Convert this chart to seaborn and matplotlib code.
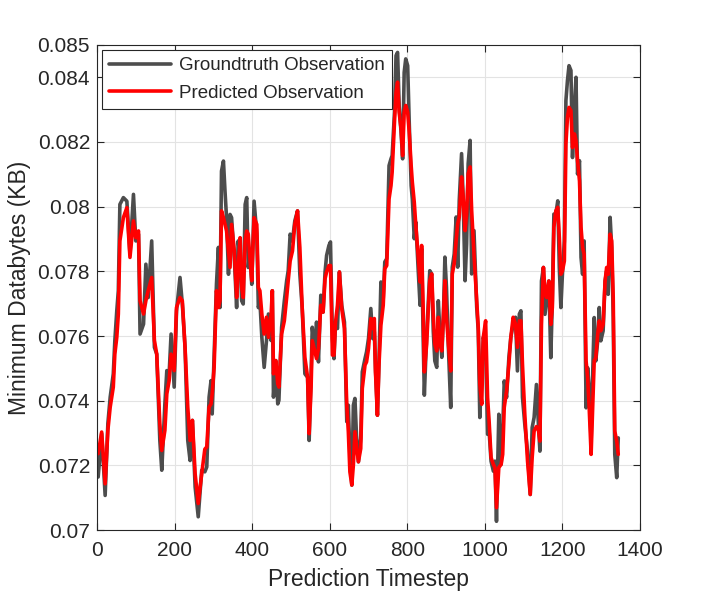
import matplotlib
matplotlib.use("Agg")
import matplotlib.pyplot as plt
import seaborn as sns
import pandas as pd

# timesteps of the vertices
timestep = [1, 3, 12, 21, 28, 34, 42, 46, 51, 55, 59, 68, 77, 85, 94, 100, 107, 111, 120, 126,
            132, 141, 148, 154, 162, 167, 175, 180, 186, 191, 199, 205, 214, 220, 227, 234, 240, 246, 253, 261,
            270, 278, 283, 289, 294, 297, 302, 308, 313, 317, 321, 326, 330, 334, 339, 343, 347, 354, 360, 364,
            369, 373, 377, 382, 386, 390, 394, 399, 405, 412, 416, 420, 425, 431, 437, 442, 449, 452, 455, 461,
            466, 469, 476, 483, 489, 493, 498, 504, 510, 517, 523, 529, 536, 543, 547, 552, 555,
            562, 566, 571, 577, 583, 588, 592, 598, 602, 607, 611, 615, 620, 625, 631, 638, 644, 648, 652, 657,
            661, 665, 669, 674, 680, 684, 691, 695, 700, 706, 711, 715, 718, 723, 727, 732, 738, 742, 747, 753,
            758, 761, 767, 771, 775, 779, 784, 788, 792, 796, 801, 805, 810, 813, 818, 822, 828, 833, 837, 841,
            844, 850, 854, 858, 863, 867, 871, 876, 880, 884, 889, 893, 897, 901, 906, 912, 916, 921, 926, 930,
            934, 940, 944, 949, 953, 957, 962, 966, 972, 979, 983, 987, 992, 996, 1002, 1007, 1011, 1016, 1022, 1026,
            1030, 1036, 1042, 1046, 1050, 1056, 1062, 1067, 1073, 1079, 1084, 1089, 1093, 1097, 1103, 1110, 1117, 1122, 1127, 1133,
            1138, 1142, 1146, 1151, 1155, 1159, 1165, 1170, 1174, 1178, 1183, 1188, 1192, 1196, 1200, 1205, 1209, 1213, 1217, 1222,
            1226, 1231, 1235, 1239, 1244, 1248, 1252, 1256, 1261, 1265, 1269, 1274, 1278, 1282, 1286, 1291, 1295, 1299, 1305, 1310,
            1314, 1318, 1323, 1327, 1331, 1335, 1340, 1344]

groundtruth = [0.07257, 0.07164, 0.07298, 0.07107, 0.07329, 0.07411, 0.07483, 0.07586, 0.07678, 0.0774,
               0.08007, 0.08028, 0.08017, 0.07853, 0.08038, 0.07894, 0.07915, 0.07606, 0.07637, 0.07822,
               0.07719, 0.07894, 0.07565, 0.07544, 0.07277, 0.07185, 0.0739, 0.07493, 0.07483, 0.07606,
               0.07442, 0.07678, 0.07781, 0.07699, 0.07565, 0.07277, 0.07215, 0.07339, 0.07133, 0.07041,
               0.07185,
               0.0718, 0.07195, 0.07411, 0.07462, 0.07359, 0.07544, 0.0776, 0.07874, 0.07688, 0.0811,
               0.08141, 0.08048, 0.07966, 0.07791, 0.07976, 0.07966, 0.07843, 0.07688, 0.07894, 0.07843,
               0.07709, 0.07699, 0.08007, 0.08028, 0.07812, 0.07863, 0.0776, 0.08017, 0.07915, 0.07688,
               0.07709, 0.07596, 0.07503, 0.07586, 0.07668, 0.07586, 0.0774, 0.07411, 0.07524, 0.0739,
               0.07401, 0.07627, 0.07709, 0.07771, 0.07802, 0.07915, 0.07894, 0.07956, 0.07987, 0.07791,
               0.07688, 0.07483, 0.07472, 0.07277, 0.07483, 0.07627,
               0.0755, 0.07643, 0.0752, 0.07726, 0.07674, 0.07798, 0.07849, 0.0788, 0.07891, 0.07592,
               0.0753, 0.07643, 0.07623, 0.07798, 0.07695, 0.07643, 0.07335, 0.07386, 0.07232, 0.07139,
               0.07386, 0.07407, 0.07293, 0.07211, 0.07283, 0.07489, 0.0753, 0.07551, 0.07592, 0.07685,
               0.07592, 0.07613, 0.07499, 0.07355, 0.0752, 0.07767, 0.07716, 0.07829, 0.07839, 0.08127,
               0.08148, 0.08158, 0.08292, 0.08467, 0.08477, 0.08313, 0.0823, 0.08148, 0.08415, 0.08457,
               0.08436, 0.08261, 0.08065, 0.08024, 0.07901, 0.07952, 0.07808, 0.07695, 0.0787, 0.07592,
               0.07417,
               0.07606, 0.07699, 0.07802, 0.07792, 0.07616, 0.07523, 0.07503, 0.07709, 0.07616, 0.07534,
               0.07658, 0.07844, 0.07751, 0.07565, 0.07379, 0.07813, 0.07854, 0.07968, 0.07813, 0.08019,
               0.08164, 0.0803, 0.07771, 0.07885, 0.08133, 0.08205, 0.07792, 0.07926, 0.07689, 0.07616,
               0.07348, 0.07492, 0.07596, 0.07565, 0.07296, 0.07306, 0.07213, 0.07182, 0.07213, 0.07027,
               0.07358, 0.07203, 0.07306, 0.07461, 0.0741, 0.07534, 0.07596, 0.07637, 0.07658, 0.07492,
               0.07668, 0.07678, 0.0741, 0.07327, 0.07244, 0.0711, 0.07317, 0.07348, 0.0745, 0.0733,
               0.07244,
               0.0777, 0.07812, 0.07667, 0.07709, 0.0777, 0.07533, 0.07709, 0.07977, 0.07977, 0.08018,
               0.07812, 0.07688, 0.07791, 0.07894, 0.08328, 0.0839, 0.08436, 0.08421, 0.08152, 0.08307,
               0.084, 0.08101, 0.08142, 0.07843, 0.07791, 0.07894, 0.07378, 0.07502, 0.0744, 0.07275,
               0.07481, 0.07657, 0.07523, 0.07585, 0.07688, 0.07585, 0.07616, 0.0777, 0.07801, 0.07729,
               0.07967, 0.07874, 0.07657, 0.07234, 0.07162, 0.07285]

predicted = [0.0726, 0.07236, 0.07303, 0.07143, 0.07308, 0.0738, 0.07442, 0.07544, 0.07596, 0.07668,
             0.07894, 0.07966, 0.07997, 0.07843, 0.07956, 0.07904, 0.07925, 0.07709, 0.07668, 0.07709,
             0.0774, 0.07781, 0.07586, 0.07544, 0.07329, 0.07246, 0.07308, 0.07421, 0.07462, 0.07544,
             0.07493, 0.07688, 0.07719, 0.07709, 0.07565, 0.0738, 0.07277, 0.07339, 0.07174, 0.07082,
             0.07174,
             0.0725, 0.07257, 0.0738, 0.0739, 0.07421, 0.07503, 0.0774, 0.07688, 0.07709, 0.07987,
             0.07966, 0.07945, 0.07925, 0.07863, 0.07812, 0.07945, 0.07863, 0.07719, 0.07812, 0.07904,
             0.0775, 0.07719, 0.07894, 0.07925, 0.07915, 0.07843, 0.07771, 0.07966, 0.07945, 0.0775,
             0.0774, 0.07668, 0.07606, 0.07658, 0.07596, 0.07668, 0.0774, 0.07483, 0.07524, 0.07452,
             0.07442, 0.07606, 0.07647, 0.07719, 0.07771, 0.07832, 0.07863, 0.07945, 0.07987, 0.07874,
             0.07688, 0.07534, 0.07472, 0.07298, 0.07442, 0.07586,
             0.0755, 0.0753, 0.07561, 0.07695, 0.07674, 0.07777, 0.07798, 0.07818, 0.07818, 0.07541,
             0.07541, 0.07643, 0.07695, 0.07798, 0.07685, 0.07623, 0.07386, 0.07304, 0.0718, 0.07139,
             0.07201, 0.07304, 0.07263, 0.07211, 0.07252, 0.07438, 0.0751, 0.0752, 0.07561, 0.07654,
             0.07623, 0.07654, 0.07489, 0.07355, 0.0751, 0.07633, 0.07695, 0.07808, 0.07818, 0.08024,
             0.08065, 0.08107, 0.08261, 0.08354, 0.08385, 0.08292, 0.0824, 0.08158, 0.08292, 0.08313,
             0.08292, 0.0823, 0.08127, 0.08076, 0.08014, 0.07942, 0.07849, 0.07767, 0.0788, 0.07685,
             0.07489,
             0.07575, 0.07678, 0.07771, 0.07792, 0.07668, 0.07575, 0.07554, 0.07658, 0.07575, 0.07554,
             0.07658, 0.07771, 0.07658, 0.07575, 0.07492, 0.07792, 0.07823, 0.07895, 0.07947, 0.07968,
             0.08092, 0.0803, 0.07926, 0.07978, 0.08102, 0.08123, 0.07988, 0.07854, 0.07709, 0.07627,
             0.07451, 0.07389, 0.07596, 0.07647, 0.0741, 0.07337, 0.07224, 0.07203, 0.07193, 0.07069,
             0.07193, 0.07203, 0.07234, 0.07379, 0.0743, 0.07513, 0.07596, 0.07658, 0.07637, 0.07565,
             0.07647, 0.07647, 0.07513, 0.07358, 0.07214, 0.0711, 0.07224, 0.07306, 0.0732, 0.0731,
             0.07275,
             0.07636, 0.07812, 0.0774, 0.07719, 0.0777, 0.07636, 0.07688, 0.07936, 0.07987, 0.07998,
             0.07905, 0.07791, 0.07801, 0.07832, 0.08194, 0.08276, 0.08307, 0.08297, 0.08183, 0.08225,
             0.08204, 0.08142, 0.0808, 0.07936, 0.07874, 0.07853, 0.07523, 0.07472, 0.07378, 0.07234,
             0.07378, 0.07523, 0.07533, 0.07605, 0.07647, 0.07616, 0.07636, 0.0777, 0.07812, 0.07791,
             0.07915, 0.07894, 0.07719, 0.07306, 0.07275, 0.07234]

y_ticks = [0.07, 0.072, 0.074, 0.076, 0.078, 0.08, 0.082, 0.084, 0.085]
y_tick_labels = ['0.07', '0.072', '0.074', '0.076', '0.078', '0.08', '0.082', '0.084', '0.085']
x_ticks = [0, 200, 400, 600, 800, 1000, 1200, 1400]

df = pd.DataFrame({'t': timestep, 'gt': groundtruth, 'pred': predicted})

sns.set_theme(style='ticks')
plt.rcParams['font.family'] = ['Liberation Sans', 'DejaVu Sans']

fig = plt.figure(figsize=(7.06, 5.95), dpi=100)
ax = fig.add_axes([0.1374, 0.1092, 0.7691, 0.8152])

sns.lineplot(data=df, x='t', y='gt', ax=ax, color='#4d4d4d', linewidth=2.6,
             estimator=None, sort=False, label='Groundtruth Observation')
sns.lineplot(data=df, x='t', y='pred', ax=ax, color='#ff0000', linewidth=2.6,
             estimator=None, sort=False, label='Predicted Observation')

ax.set_xlim(0, 1400)
ax.set_ylim(0.07, 0.085)
ax.set_xticks(x_ticks)
ax.set_yticks(y_ticks)
ax.set_yticklabels(y_tick_labels)
ax.grid(True, color='#e3e3e3', linewidth=0.8)
ax.set_axisbelow(True)
ax.tick_params(direction='in', length=5, width=0.8, colors='#262626',
               labelsize=15, top=True, right=True, pad=5)
ax.tick_params(axis='x', pad=8)
for s in ax.spines.values():
    s.set_color('#262626')
    s.set_linewidth(0.8)

ax.set_xlabel('Prediction Timestep', fontsize=16.5, color='#262626', labelpad=6)
ax.set_ylabel('Minimum Databytes (KB)', fontsize=16.5, color='#262626', labelpad=5)

leg = ax.legend(loc='upper left', fontsize=13.5, frameon=True, fancybox=False,
                handlelength=3.3, handletextpad=0.4, borderaxespad=0.25,
                borderpad=0.4, labelspacing=0.55)
leg.get_frame().set_edgecolor('#262626')
leg.get_frame().set_linewidth(0.8)
leg.get_frame().set_alpha(1)

fig.savefig('out.png', dpi=100)
